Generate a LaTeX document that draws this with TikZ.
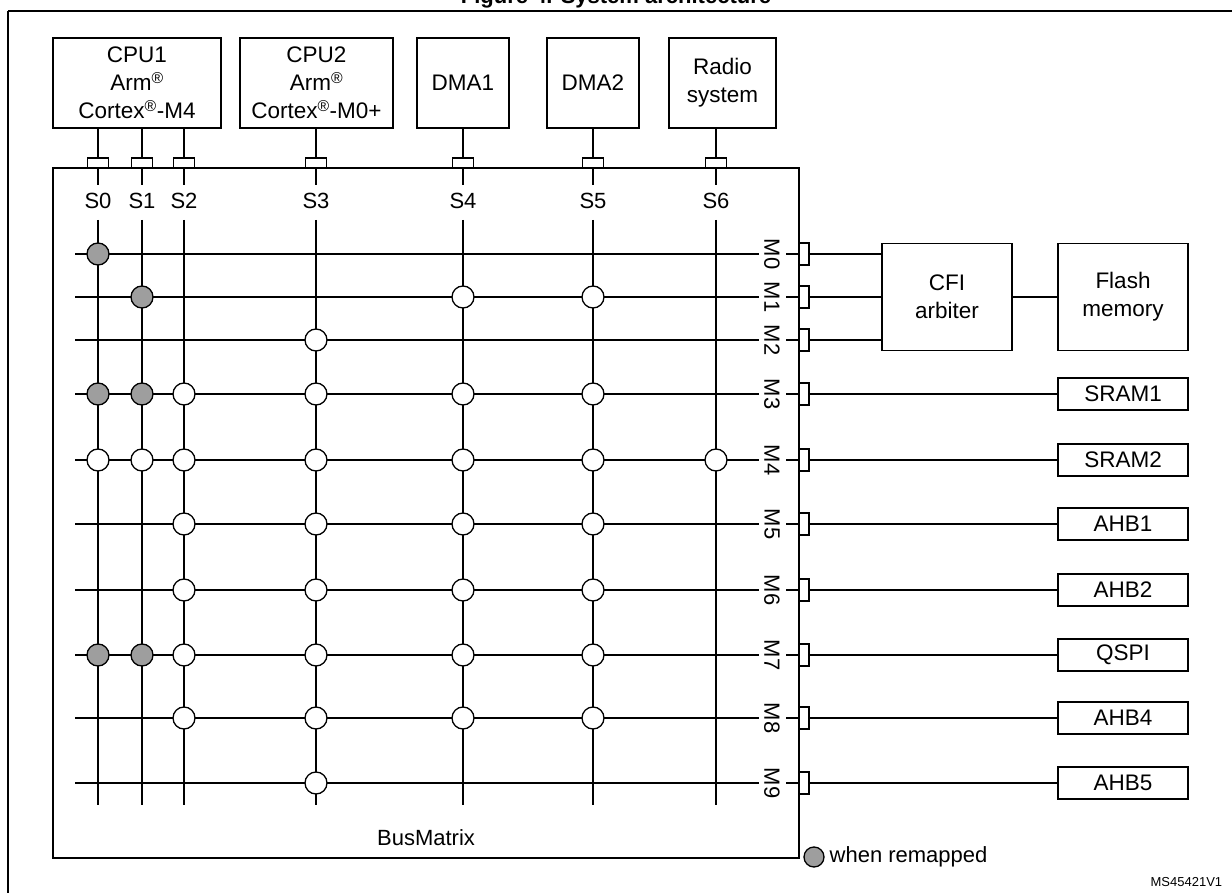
\documentclass[tikz,border=0pt]{standalone}
\usepackage{fontspec}
\setmainfont{Liberation Sans}
\begin{document}
\begin{tikzpicture}[x=1pt,y=-1pt,line width=1.3pt,
  box/.style={draw,align=center,inner sep=0pt,font=\fontsize{22.5}{28}\selectfont},
  sport/.style={draw,minimum width=21pt,minimum height=10pt,inner sep=0pt,line width=1.1pt},
  mport/.style={draw,minimum width=10pt,minimum height=22pt,inner sep=0pt,line width=1.1pt},
  lbl/.style={font=\fontsize{22}{26}\selectfont,inner sep=1pt},
  wc/.style={circle,draw,fill=white,minimum size=22pt,inner sep=0pt},
  gc/.style={circle,draw,fill=black!38,minimum size=22pt,inner sep=0pt}]
\useasboundingbox (0,0) rectangle (1232,893);
\node[anchor=base,font=\bfseries\fontsize{22}{26}\selectfont] (title) at (616,4) {Figure 4. System architecture};
\draw (8,11) -- (1245,11);
\draw (8,11) -- (8,905);
% masters on top
\node[box,minimum width=168pt,minimum height=90pt] (cpu1) at (137,83) {CPU1\\Arm\textsuperscript{®}\\Cortex\textsuperscript{®}-M4};
\node[box,minimum width=153pt,minimum height=90pt] (cpu2) at (316.5,83) {CPU2\\Arm\textsuperscript{®}\\Cortex\textsuperscript{®}-M0+};
\node[box,minimum width=92pt,minimum height=90pt] (dma1) at (463,83) {DMA1};
\node[box,minimum width=92pt,minimum height=90pt] (dma2) at (593,83) {DMA2};
\node[box,minimum width=107pt,minimum height=90pt] (radio) at (722.5,83) {Radio\\system};
% bus matrix
\node[draw,minimum width=746pt,minimum height=690pt,inner sep=0pt] (bm) at (426,513) {};
\node[lbl] (bml) at (426,838) {BusMatrix};
% slave ports S
\foreach \n/\x/\src in {0/98/cpu1,1/142/cpu1,2/184/cpu1,3/316/cpu2,4/463/dma1,5/593/dma2,6/716/radio}{
  \node[sport] (p\n) at (\x,163) {};
  \node[lbl] (s\n) at (\x,201) {S\n};
  \coordinate (t\n) at (\x,128);
  \coordinate (a\n) at (\x,185);
  \coordinate (b\n) at (\x,220);
  \coordinate (e\n) at (\x,805);
  \draw (t\n) -- (p\n.north);
  \draw (p\n.south) -- (a\n);
  \draw (b\n) -- (e\n);
}
% master ports M
\foreach \m/\y in {0/254,1/297,2/340,3/394,4/460,5/524,6/590,7/655,8/718,9/783}{
  \coordinate (l\m) at (75,\y);
  \coordinate (r\m) at (759,\y);
  \node[lbl,rotate=-90] (ml\m) at (772,\y) {M\m};
  \coordinate (q\m) at (786,\y);
  \node[mport] (mp\m) at (804,\y) {};
  \draw (l\m) -- (r\m);
  \draw (q\m) -- (mp\m.west);
}
% right side targets
\node[box,minimum width=130pt,minimum height=107pt] (cfi) at (947,297) {CFI\\arbiter};
\node[box,minimum width=130pt,minimum height=107pt] (flash) at (1123,297) {Flash\\memory};
\draw (cfi) -- (flash);
\foreach \m in {0,1,2}{ \draw (mp\m.east) -- (mp\m.east -| cfi.west); }
\foreach \m/\t in {3/SRAM1,4/SRAM2,5/AHB1,6/AHB2,7/QSPI,8/AHB4,9/AHB5}{
  \node[box,minimum width=130pt,minimum height=32pt] (t\t) at (1123,0 |- mp\m) {\t};
  \draw (mp\m.east) -- (t\t.west);
}
% crossings
\foreach \s/\m in {0/0,1/1,0/3,1/3,0/7,1/7}{ \node[gc] (g\s\m) at (p\s |- l\m) {}; }
\foreach \s/\m in {4/1,5/1,3/2,2/3,3/3,4/3,5/3,0/4,1/4,2/4,3/4,4/4,5/4,6/4,
  2/5,3/5,4/5,5/5,2/6,3/6,4/6,5/6,2/7,3/7,4/7,5/7,2/8,3/8,4/8,5/8,3/9}{ \node[wc] (w\s\m) at (p\s |- l\m) {}; }
% legend
\node[gc,minimum size=20pt] (leg) at (814,857) {};
\node[lbl,anchor=west] (legt) at (828,857) {when remapped};
\node[anchor=west,font=\fontsize{13}{15}\selectfont,inner sep=0pt] (ref) at (1150,882) {MS45421V1};
\end{tikzpicture}
\end{document}
